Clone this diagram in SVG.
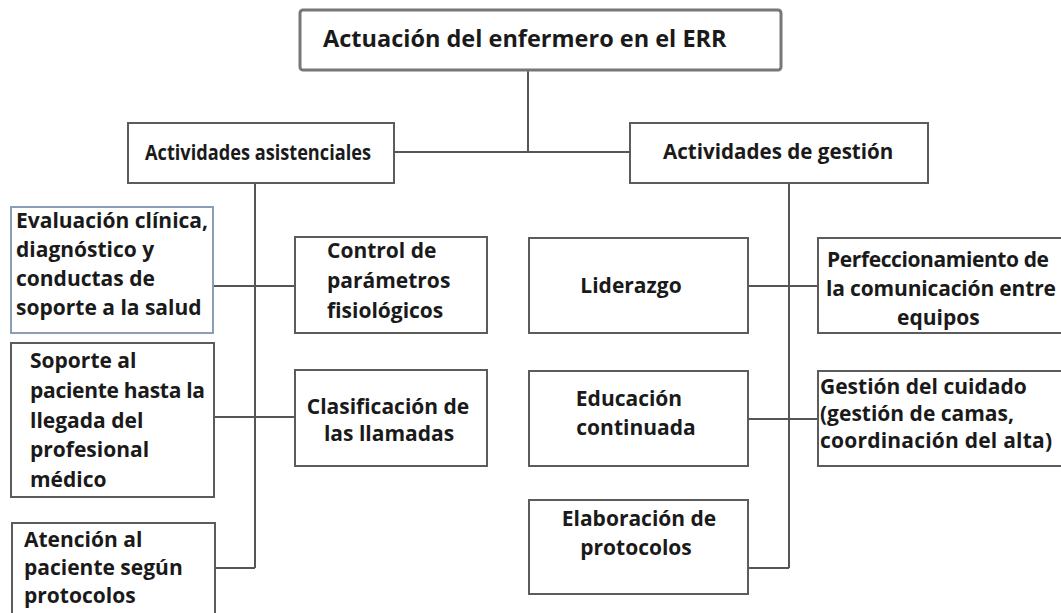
<svg xmlns="http://www.w3.org/2000/svg" width="1061" height="613" viewBox="0 0 1061 613">
<style>
.box{fill:#fff;stroke:#5c5c5c;stroke-width:2}
.blue{fill:#fff;stroke:#8c9dba;stroke-width:2}
.top{fill:#fff;stroke:#777;stroke-width:3}
.t{font-family:"Open Sans","Noto Sans",sans-serif;font-weight:700;font-size:21px;fill:#1a1a1a}
.c{text-anchor:middle}
.con{stroke:#555;stroke-width:2;fill:none}
</style>
<rect width="1061" height="613" fill="#fff"/>
<g id="connectors">
<path class="con" d="M528 70V152M394 152H630M255 183V568M214 286H295M214 417H295M215 568H255M789 183V568M748 286H818M748 419H818M748 568H789"/>
</g>
<g id="n-root">
<rect class="top" x="300" y="10" width="481" height="60" rx="3"/>
<text class="t" x="323" y="47" style="font-size:23.5px">Actuación del enfermero en el ERR</text>
</g>
<g id="n-asist">
<rect class="box" x="128" y="123" width="266" height="60"/>
<text class="t" x="145" y="160" style="font-size:20.5px" textLength="226" lengthAdjust="spacingAndGlyphs">Actividades asistenciales</text>
</g>
<g id="n-gestion">
<rect class="box" x="630" y="123" width="298" height="60"/>
<text class="t" x="663" y="159" style="font-size:20.6px">Actividades de gestión</text>
</g>
<g id="n-evaluacion">
<rect class="blue" x="11" y="207" width="202" height="126"/>
<text class="t"><tspan x="16" y="228">Evaluación clínica,</tspan><tspan x="16" y="257">diagnóstico y</tspan><tspan x="16" y="286">conductas de</tspan><tspan x="16" y="315">soporte a la salud</tspan></text>
</g>
<g id="n-control">
<rect class="box" x="295" y="237" width="192" height="96"/>
<text class="t"><tspan x="327" y="258">Control de</tspan><tspan x="327" y="288">parámetros</tspan><tspan x="327" y="318">fisiológicos</tspan></text>
</g>
<g id="n-soporte">
<rect class="box" x="11" y="343" width="203" height="154"/>
<text class="t"><tspan x="30" y="368">Soporte al</tspan><tspan x="30" y="398" textLength="175">paciente hasta la</tspan><tspan x="30" y="428">llegada del</tspan><tspan x="30" y="457">profesional</tspan><tspan x="30" y="487">médico</tspan></text>
</g>
<g id="n-clasificacion">
<rect class="box" x="295" y="370" width="192" height="96"/>
<text class="t c"><tspan x="388" y="414">Clasificación de</tspan><tspan x="389" y="441">las llamadas</tspan></text>
</g>
<g id="n-atencion">
<rect class="box" x="12" y="523" width="203" height="100"/>
<text class="t"><tspan x="24" y="547">Atención al</tspan><tspan x="24" y="575">paciente según</tspan><tspan x="24" y="603">protocolos</tspan></text>
</g>
<g id="n-liderazgo">
<rect class="box" x="529" y="238" width="219" height="95"/>
<text class="t c" x="631" y="293">Liderazgo</text>
</g>
<g id="n-perfeccionamiento">
<rect class="box" x="818" y="238" width="260" height="95"/>
<text class="t"><tspan x="827" y="267" textLength="222">Perfeccionamiento de</tspan><tspan x="826" y="296" textLength="230">la comunicación entre</tspan><tspan x="897" y="325">equipos</tspan></text>
</g>
<g id="n-educacion">
<rect class="box" x="529" y="371" width="219" height="95"/>
<text class="t c"><tspan x="629" y="406">Educación</tspan><tspan x="636" y="435">continuada</tspan></text>
</g>
<g id="n-cuidado">
<rect class="box" x="818" y="371" width="260" height="95"/>
<text class="t"><tspan x="820" y="394">Gestión del cuidado</tspan><tspan x="820" y="421">(gestión de camas,</tspan><tspan x="820" y="448" textLength="232">coordinación del alta)</tspan></text>
</g>
<g id="n-elaboracion">
<rect class="box" x="529" y="500" width="219" height="94"/>
<text class="t c"><tspan x="639" y="526">Elaboración de</tspan><tspan x="636" y="555">protocolos</tspan></text>
</g>
</svg>
